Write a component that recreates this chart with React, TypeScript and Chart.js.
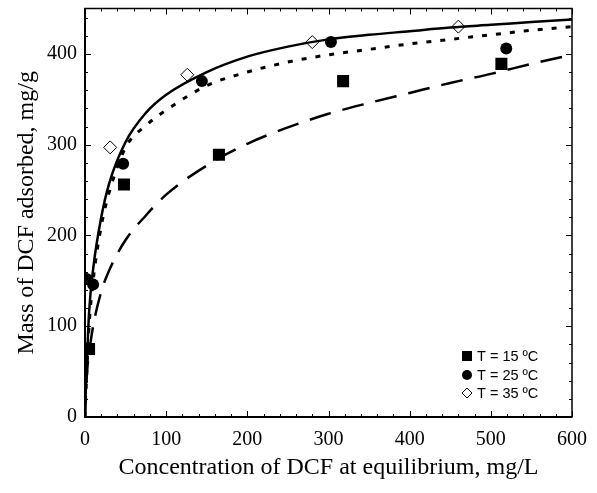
import React, { useEffect, useRef } from 'react';
import { Chart, registerables } from 'chart.js';

Chart.register(...registerables);

const W = 597;
const H = 493;

// Experimental points (Ce mg/L, qe mg/g)
const T15_C = [5, 48, 165, 318, 513];
const T15_Q = [75, 256, 289, 370, 389];
const T25_C = [2, 10, 47, 144, 303, 519];
const T25_Q = [152, 146, 279, 370, 413, 406];
const T35_C = [3, 31, 126, 280, 460];
const T35_Q = [75, 297, 377, 413, 430];

// Model curves
const FIT_C = [0, 1, 2, 3, 5, 10, 20, 30, 50, 75, 100, 150, 200, 250, 300, 350, 400, 450, 500, 550, 600];
const FIT35 = [0, 30, 50, 75, 115, 163, 220, 258, 303, 335, 355, 380, 397, 408, 416, 421, 425, 429, 432, 435, 438];
const FIT25 = [0, 25, 45, 65, 100, 150, 210, 248, 297, 321, 338, 365, 380, 391, 399, 405, 411, 416, 421, 426, 430];
const FIT15 = [0, 25, 42, 55, 70, 100, 138, 162, 195, 222, 245, 277, 301, 319, 334, 346, 357, 368, 378, 389, 399];

const X_TICKS = [0, 100, 200, 300, 400, 500, 600];
const Y_TICKS = [0, 100, 200, 300, 400];

const LEGEND_LABELS = ['T = 15 ºC', 'T = 25 ºC', 'T = 35 ºC'];

const X_TITLE = 'Concentration of DCF at equilibrium, mg/L';
const Y_TITLE = 'Mass of DCF adsorbed, mg/g';

const pts = (xs: number[], ys: number[]) => xs.map((x, i) => ({ x, y: ys[i] }));

const frameTicks = {
  id: 'frameTicks',
  afterDraw(chart: any) {
    const { ctx, chartArea: a, scales } = chart;
    const xs = scales.x;
    const ys = scales.y;
    ctx.save();
    ctx.strokeStyle = '#000';
    ctx.lineWidth = 1;
    ctx.beginPath();
    for (let v = 0; v <= 600; v += 20) {
      const px = Math.round(xs.getPixelForValue(v)) + 0.5;
      const len = v % 100 === 0 ? 6 : 3;
      ctx.moveTo(px, a.bottom);
      ctx.lineTo(px, a.bottom - len);
      ctx.moveTo(px, a.top);
      ctx.lineTo(px, a.top + len);
    }
    for (let v = 0; v <= 440; v += 20) {
      const py = Math.round(ys.getPixelForValue(v)) + 0.5;
      const len = v % 100 === 0 ? 6 : 3;
      ctx.moveTo(a.left, py);
      ctx.lineTo(a.left + len, py);
      ctx.moveTo(a.right, py);
      ctx.lineTo(a.right - len, py);
    }
    ctx.stroke();
    ctx.lineWidth = 1.5;
    ctx.strokeRect(a.left, a.top, a.right - a.left, a.bottom - a.top);
    ctx.lineWidth = 2;
    ctx.beginPath();
    ctx.moveTo(a.left, a.top);
    ctx.lineTo(a.left, a.bottom);
    ctx.lineTo(a.right, a.bottom);
    ctx.stroke();

    // legend
    const lx = a.right - 105;
    const rows = [a.bottom - 61, a.bottom - 42, a.bottom - 24];
    ctx.fillStyle = '#000';
    ctx.fillRect(lx - 5, rows[0] - 5, 10, 10);
    ctx.beginPath();
    ctx.arc(lx, rows[1], 5, 0, Math.PI * 2);
    ctx.fill();
    ctx.beginPath();
    ctx.moveTo(lx, rows[2] - 5);
    ctx.lineTo(lx + 5, rows[2]);
    ctx.lineTo(lx, rows[2] + 5);
    ctx.lineTo(lx - 5, rows[2]);
    ctx.closePath();
    ctx.fillStyle = '#fff';
    ctx.fill();
    ctx.lineWidth = 1;
    ctx.stroke();
    ctx.fillStyle = '#000';
    ctx.font = '14.5px "Liberation Sans", Arial, sans-serif';
    ctx.textBaseline = 'middle';
    ctx.textAlign = 'left';
    LEGEND_LABELS.forEach((t, i) => ctx.fillText(t, lx + 10, rows[i] + 1));
    ctx.restore();
  },
};

export default function App() {
  const ref = useRef<HTMLCanvasElement>(null);
  useEffect(() => {
    const canvas = ref.current!;
    const lineBase = {
      showLine: true,
      pointRadius: 0,
      pointHoverRadius: 0,
      borderColor: '#000',
      backgroundColor: '#000',
      fill: false,
      cubicInterpolationMode: 'monotone' as const,
      order: 0,
    };
    const chart = new Chart(canvas, {
      type: 'scatter',
      data: {
        datasets: [
          { ...lineBase, label: 'fit35', data: pts(FIT_C, FIT35), borderWidth: 2.5 },
          { ...lineBase, label: 'fit25', data: pts(FIT_C, FIT25), borderWidth: 3, borderDash: [5, 9] },
          { ...lineBase, label: 'fit15', data: pts(FIT_C, FIT15), borderWidth: 2.5, borderDash: [22, 12] },
          {
            label: LEGEND_LABELS[0],
            data: pts(T15_C, T15_Q),
            pointStyle: 'rect',
            pointRadius: 8.5,
            pointBackgroundColor: '#000',
            pointBorderWidth: 0,
            order: 1,
          },
          {
            label: LEGEND_LABELS[1],
            data: pts(T25_C, T25_Q),
            pointStyle: 'circle',
            pointRadius: 6,
            pointBackgroundColor: '#000',
            pointBorderWidth: 0,
            order: 1,
          },
          {
            label: LEGEND_LABELS[2],
            data: pts(T35_C, T35_Q),
            pointStyle: 'rectRot',
            pointRadius: 6.5,
            pointBackgroundColor: '#fff',
            pointBorderColor: '#000',
            pointBorderWidth: 1,
            order: 1,
          },
        ],
      },
      options: {
        responsive: false,
        animation: false,
        devicePixelRatio: 1,
        layout: { padding: { top: 8, right: 25, left: 0, bottom: 0 } },
        plugins: {
          legend: { display: false },
          tooltip: { enabled: false },
        },
        scales: {
          x: {
            type: 'linear',
            min: 0,
            max: 600,
            afterFit: (s: any) => {
              s.height = 76;
              s.paddingLeft = 0;
              s.paddingRight = 0;
            },
            afterBuildTicks: (s: any) => {
              s.ticks = X_TICKS.map((value) => ({ value }));
            },
            grid: { display: false, drawTicks: false },
            border: { display: false },
            ticks: {
              color: '#000',
              padding: 11,
              maxRotation: 0,
              font: { family: '"Liberation Serif", "Times New Roman", serif', size: 20 },
            },
            title: {
              display: true,
              text: X_TITLE,
              color: '#000',
              padding: { top: 0, bottom: 11 },
              font: { family: '"Liberation Serif", "Times New Roman", serif', size: 24 },
            },
          },
          y: {
            type: 'linear',
            min: 0,
            max: 450,
            afterFit: (s: any) => {
              s.width = 85;
              s.paddingTop = 0;
              s.paddingBottom = 0;
            },
            afterBuildTicks: (s: any) => {
              s.ticks = Y_TICKS.map((value) => ({ value }));
            },
            grid: { display: false, drawTicks: false },
            border: { display: false },
            ticks: {
              color: '#000',
              padding: 8,
              font: { family: '"Liberation Serif", "Times New Roman", serif', size: 20 },
            },
            title: {
              display: true,
              text: Y_TITLE,
              color: '#000',
              padding: { top: 12, bottom: 0 },
              font: { family: '"Liberation Serif", "Times New Roman", serif', size: 24 },
            },
          },
        },
      },
      plugins: [frameTicks],
    });
    return () => chart.destroy();
  }, []);
  return (
    <div style={{ position: 'fixed', left: 0, top: 0, width: W, height: H, background: '#fff' }}>
      <canvas ref={ref} width={W} height={H} style={{ display: 'block', width: W, height: H }} />
    </div>
  );
}
